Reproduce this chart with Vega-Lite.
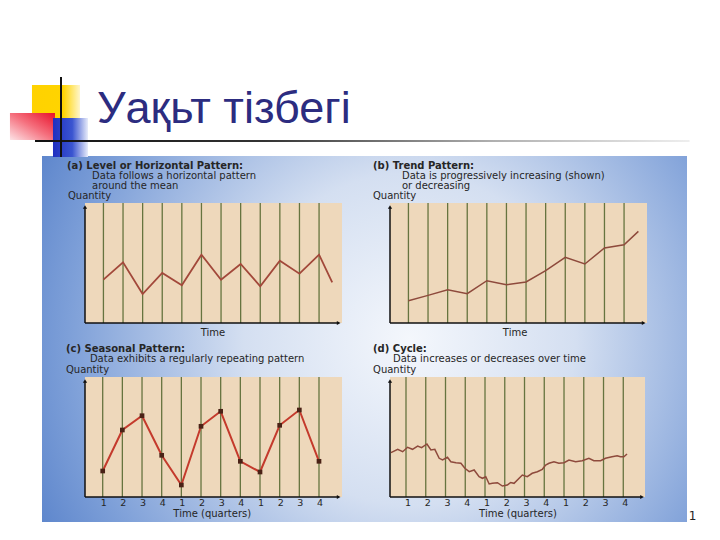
{
  "$schema": "https://vega.github.io/schema/vega-lite/v6.json",
  "width": 645,
  "height": 366,
  "autosize": {"type": "none"},
  "padding": {"left": 42, "top": 156, "right": 33, "bottom": 18},
  "background": "#ffffff",
  "view": {
    "stroke": null,
    "fill": {
      "gradient": "radial",
      "x1": 0.57, "y1": 0.5, "r1": 0,
      "x2": 0.57, "y2": 0.5, "r2": 0.78,
      "stops": [
        {"offset": 0, "color": "#f4f7fc"},
        {"offset": 0.33, "color": "#d4dff1"},
        {"offset": 0.68, "color": "#7d9fd8"},
        {"offset": 1, "color": "#3566bd"}
      ]
    }
  },
  "title": {
    "text": "Уақьт тізбегі",
    "anchor": "start",
    "frame": "group",
    "dx": 55,
    "dy": 123,
    "offset": 31,
    "baseline": "alphabetic",
    "font": "Liberation Sans",
    "fontSize": 45,
    "fontWeight": "normal",
    "color": "#2c2c80"
  },
  "datasets": {
    "grid": [
      {"t": 1, "quarter": "1"}, {"t": 2, "quarter": "2"}, {"t": 3, "quarter": "3"}, {"t": 4, "quarter": "4"},
      {"t": 5, "quarter": "1"}, {"t": 6, "quarter": "2"}, {"t": 7, "quarter": "3"}, {"t": 8, "quarter": "4"},
      {"t": 9, "quarter": "1"}, {"t": 10, "quarter": "2"}, {"t": 11, "quarter": "3"}, {"t": 12, "quarter": "4"}
    ],
    "a": [
      {"t": 1, "q": 43.3}, {"t": 2, "q": 60.7}, {"t": 3, "q": 29}, {"t": 4, "q": 50}, {"t": 5, "q": 37.7},
      {"t": 6, "q": 68.3}, {"t": 7, "q": 43.3}, {"t": 8, "q": 59}, {"t": 9, "q": 36.7}, {"t": 10, "q": 62.3},
      {"t": 11, "q": 49.3}, {"t": 12, "q": 68.3}, {"t": 12.67, "q": 40.7}
    ],
    "b": [
      {"t": 1, "q": 22.3}, {"t": 2, "q": 27.6}, {"t": 3, "q": 33.3}, {"t": 4, "q": 29.3}, {"t": 5, "q": 42.3},
      {"t": 6, "q": 38.3}, {"t": 7, "q": 41}, {"t": 8, "q": 52.3}, {"t": 9, "q": 65.6}, {"t": 10, "q": 59},
      {"t": 11, "q": 75}, {"t": 12, "q": 78.3}, {"t": 12.73, "q": 91.6}
    ],
    "c": [
      {"t": 1, "q": 26}, {"t": 2, "q": 67}, {"t": 3, "q": 81.3}, {"t": 4, "q": 41.7}, {"t": 5, "q": 12},
      {"t": 6, "q": 70.7}, {"t": 7, "q": 85.7}, {"t": 8, "q": 35.7}, {"t": 9, "q": 25}, {"t": 10, "q": 71.7},
      {"t": 11, "q": 87}, {"t": 12, "q": 35.7}
    ],
    "d": [
      {"t": 0.24, "q": 44.3}, {"t": 0.58, "q": 47.7}, {"t": 0.83, "q": 45.3}, {"t": 1.08, "q": 49.7},
      {"t": 1.33, "q": 47.7}, {"t": 1.59, "q": 51}, {"t": 1.79, "q": 49.3}, {"t": 2.06, "q": 53},
      {"t": 2.26, "q": 47}, {"t": 2.46, "q": 47.7}, {"t": 2.68, "q": 38.7}, {"t": 2.85, "q": 37},
      {"t": 3.1, "q": 39.7}, {"t": 3.27, "q": 35.3}, {"t": 3.53, "q": 34.3}, {"t": 3.78, "q": 33.7},
      {"t": 3.98, "q": 28.7}, {"t": 4.2, "q": 25.3}, {"t": 4.45, "q": 27}, {"t": 4.7, "q": 20.3},
      {"t": 4.87, "q": 18.7}, {"t": 5.04, "q": 20.3}, {"t": 5.21, "q": 13}, {"t": 5.37, "q": 13.7},
      {"t": 5.63, "q": 14.3}, {"t": 5.88, "q": 11}, {"t": 6.13, "q": 12}, {"t": 6.3, "q": 14.5},
      {"t": 6.47, "q": 13.7}, {"t": 6.89, "q": 22}, {"t": 7.14, "q": 20.3}, {"t": 7.39, "q": 23.7},
      {"t": 7.65, "q": 25.3}, {"t": 7.9, "q": 27.7}, {"t": 8.07, "q": 32}, {"t": 8.24, "q": 33.7},
      {"t": 8.49, "q": 35.3}, {"t": 8.74, "q": 33.7}, {"t": 9.0, "q": 34.3}, {"t": 9.25, "q": 37},
      {"t": 9.59, "q": 35.3}, {"t": 9.92, "q": 36.3}, {"t": 10.26, "q": 38.7}, {"t": 10.51, "q": 36.3},
      {"t": 10.85, "q": 36.3}, {"t": 11.1, "q": 38.7}, {"t": 11.43, "q": 40.3}, {"t": 11.69, "q": 41.3},
      {"t": 11.86, "q": 40.3}, {"t": 12.03, "q": 40.3}, {"t": 12.19, "q": 43}
    ]
  },
  "resolve": {
    "scale": {"x": "independent", "y": "independent"}
  },
  "layer": [
    {
      "data": {"name": "a"},
      "layer": [
        {"data": {"values": [{}]}, "mark": {"type": "rect", "fill": {"gradient": "linear", "x1": 0, "y1": 0, "x2": 1, "y2": 0, "stops": [{"offset": 0, "color": "#ffd200"}, {"offset": 0.65, "color": "#ffd400"}, {"offset": 1, "color": "#fff6cc"}]}},
         "encoding": {"x": {"datum": -2.645, "type": "quantitative", "axis": null}, "x2": {"datum": -0.195}, "y": {"datum": 238, "type": "quantitative", "axis": null}, "y2": {"datum": 195}}},
        {"data": {"values": [{}]}, "mark": {"type": "rect", "fill": {"gradient": "linear", "x1": 0, "y1": 1, "x2": 1, "y2": 0, "stops": [{"offset": 0, "color": "#fde3e6"}, {"offset": 0.5, "color": "#f5707e"}, {"offset": 1, "color": "#e8102a"}]}},
         "encoding": {"x": {"datum": -3.768, "type": "quantitative", "axis": null}, "x2": {"datum": -1.471}, "y": {"datum": 210, "type": "quantitative", "axis": null}, "y2": {"datum": 183}}},
        {"data": {"values": [{}]}, "mark": {"type": "rect", "fill": {"gradient": "linear", "x1": 0, "y1": 0, "x2": 1, "y2": 0, "stops": [{"offset": 0, "color": "#1f2fbf"}, {"offset": 0.55, "color": "#3a55d0"}, {"offset": 1, "color": "#e8ecfa"}]}},
         "encoding": {"x": {"datum": -1.573, "type": "quantitative", "axis": null}, "x2": {"datum": 0.213}, "y": {"datum": 205, "type": "quantitative", "axis": null}, "y2": {"datum": 166}}},
        {"data": {"values": [{}]}, "mark": {"type": "rect", "fill": {"gradient": "linear", "x1": 0, "y1": 0, "x2": 1, "y2": 0, "stops": [{"offset": 0, "color": "#111111"}, {"offset": 0.35, "color": "#333333"}, {"offset": 0.7, "color": "#b0b0b0"}, {"offset": 1, "color": "#eeeeee"}]}},
         "encoding": {"x": {"datum": -2.49, "type": "quantitative", "axis": null}, "x2": {"datum": 30.9}, "y": {"datum": 183, "type": "quantitative", "axis": null}, "y2": {"datum": 181}}},
        {"data": {"values": [{}]}, "mark": {"type": "rule", "color": "#111111", "strokeWidth": 2},
         "encoding": {"x": {"datum": -1.165, "type": "quantitative", "axis": null}, "y": {"datum": 246, "type": "quantitative", "axis": null}, "y2": {"datum": 166}}},
        {"data": {"values": [{}]}, "mark": {"type": "rect", "fill": "#eed8bb"},
         "encoding": {"x": {"datum": 0.06, "type": "quantitative", "axis": null}, "x2": {"datum": 13.17}, "y": {"datum": 0, "type": "quantitative", "axis": null}, "y2": {"datum": 120}}},
        {"data": {"name": "grid"}, "mark": {"type": "rule", "color": "#66743f", "strokeWidth": 1.3},
         "encoding": {"x": {"field": "t", "type": "quantitative", "axis": null}, "y": {"datum": 0, "type": "quantitative", "axis": null}, "y2": {"datum": 120}}},
        {"data": {"values": [{}]}, "mark": {"type": "rule", "color": "#111111", "strokeWidth": 1.5},
         "encoding": {"x": {"datum": 0.06, "type": "quantitative", "axis": null}, "x2": {"datum": 13.0}, "y": {"datum": 0, "type": "quantitative", "axis": null}}},
        {"data": {"values": [{}]}, "mark": {"type": "rule", "color": "#111111", "strokeWidth": 1.5},
         "encoding": {"x": {"datum": 0.06, "type": "quantitative", "axis": null}, "y": {"datum": 0, "type": "quantitative", "axis": null}, "y2": {"datum": 116}}},
        {"data": {"values": [{}]}, "mark": {"type": "point", "shape": "triangle-right", "filled": true, "size": 18, "color": "#111111", "opacity": 1},
         "encoding": {"x": {"datum": 13.0, "type": "quantitative", "axis": null}, "y": {"datum": 0, "type": "quantitative", "axis": null}}},
        {"data": {"values": [{}]}, "mark": {"type": "point", "shape": "triangle-up", "filled": true, "size": 18, "color": "#111111", "opacity": 1},
         "encoding": {"x": {"datum": 0.06, "type": "quantitative", "axis": null}, "y": {"datum": 116, "type": "quantitative", "axis": null}}},
        {"mark": {"type": "line", "color": "#a2483a", "strokeWidth": 1.8},
         "encoding": {
           "x": {"field": "t", "type": "quantitative", "scale": {"domain": [0.06, 13.17], "range": [43, 300], "nice": false, "zero": false}, "axis": null},
           "y": {"field": "q", "type": "quantitative", "scale": {"domain": [0, 120], "range": [167, 47], "nice": false, "zero": false}, "axis": null}}},
        {"data": {"values": [{}]}, "mark": {"type": "text", "font": "DejaVu Sans", "fontWeight": "bold", "fontSize": 10, "align": "left", "baseline": "alphabetic", "color": "#262626"},
         "encoding": {"x": {"datum": -0.86, "type": "quantitative", "axis": null}, "y": {"datum": 154.5, "type": "quantitative", "axis": null}, "text": {"value": "(a) Level or Horizontal Pattern:"}}},
        {"data": {"values": [{}]}, "mark": {"type": "text", "font": "DejaVu Sans", "fontSize": 10, "lineHeight": 10, "align": "left", "baseline": "alphabetic", "color": "#262626"},
         "encoding": {"x": {"datum": 0.42, "type": "quantitative", "axis": null}, "y": {"datum": 144.5, "type": "quantitative", "axis": null}, "text": {"value": ["Data follows a horizontal pattern", "around the mean"]}}},
        {"data": {"values": [{}]}, "mark": {"type": "text", "font": "DejaVu Sans", "fontSize": 10, "align": "left", "baseline": "alphabetic", "color": "#262626"},
         "encoding": {"x": {"datum": -0.81, "type": "quantitative", "axis": null}, "y": {"datum": 124, "type": "quantitative", "axis": null}, "text": {"value": "Quantity"}}},
        {"data": {"values": [{}]}, "mark": {"type": "text", "font": "DejaVu Sans", "fontSize": 10, "align": "center", "baseline": "alphabetic", "color": "#262626"},
         "encoding": {"x": {"datum": 6.59, "type": "quantitative", "axis": null}, "y": {"datum": -12.5, "type": "quantitative", "axis": null}, "text": {"value": "Time"}}}
      ]
    },
    {
      "data": {"name": "b"},
      "layer": [
        {"data": {"values": [{}]}, "mark": {"type": "rect", "fill": "#eed8bb"},
         "encoding": {"x": {"datum": 0.06, "type": "quantitative", "axis": null}, "x2": {"datum": 13.17}, "y": {"datum": 0, "type": "quantitative", "axis": null}, "y2": {"datum": 120}}},
        {"data": {"name": "grid"}, "mark": {"type": "rule", "color": "#66743f", "strokeWidth": 1.3},
         "encoding": {"x": {"field": "t", "type": "quantitative", "axis": null}, "y": {"datum": 0, "type": "quantitative", "axis": null}, "y2": {"datum": 120}}},
        {"data": {"values": [{}]}, "mark": {"type": "rule", "color": "#111111", "strokeWidth": 1.5},
         "encoding": {"x": {"datum": 0.06, "type": "quantitative", "axis": null}, "x2": {"datum": 13.0}, "y": {"datum": 0, "type": "quantitative", "axis": null}}},
        {"data": {"values": [{}]}, "mark": {"type": "rule", "color": "#111111", "strokeWidth": 1.5},
         "encoding": {"x": {"datum": 0.06, "type": "quantitative", "axis": null}, "y": {"datum": 0, "type": "quantitative", "axis": null}, "y2": {"datum": 116}}},
        {"data": {"values": [{}]}, "mark": {"type": "point", "shape": "triangle-right", "filled": true, "size": 18, "color": "#111111", "opacity": 1},
         "encoding": {"x": {"datum": 13.0, "type": "quantitative", "axis": null}, "y": {"datum": 0, "type": "quantitative", "axis": null}}},
        {"data": {"values": [{}]}, "mark": {"type": "point", "shape": "triangle-up", "filled": true, "size": 18, "color": "#111111", "opacity": 1},
         "encoding": {"x": {"datum": 0.06, "type": "quantitative", "axis": null}, "y": {"datum": 116, "type": "quantitative", "axis": null}}},
        {"mark": {"type": "line", "color": "#8e4a3c", "strokeWidth": 1.5},
         "encoding": {
           "x": {"field": "t", "type": "quantitative", "scale": {"domain": [0.06, 13.17], "range": [348, 605], "nice": false, "zero": false}, "axis": null},
           "y": {"field": "q", "type": "quantitative", "scale": {"domain": [0, 120], "range": [167, 47], "nice": false, "zero": false}, "axis": null}}},
        {"data": {"values": [{}]}, "mark": {"type": "text", "font": "DejaVu Sans", "fontWeight": "bold", "fontSize": 10, "align": "left", "baseline": "alphabetic", "color": "#262626"},
         "encoding": {"x": {"datum": -0.81, "type": "quantitative", "axis": null}, "y": {"datum": 154.5, "type": "quantitative", "axis": null}, "text": {"value": "(b) Trend Pattern:"}}},
        {"data": {"values": [{}]}, "mark": {"type": "text", "font": "DejaVu Sans", "fontSize": 10, "lineHeight": 10, "align": "left", "baseline": "alphabetic", "color": "#262626"},
         "encoding": {"x": {"datum": 0.67, "type": "quantitative", "axis": null}, "y": {"datum": 144.5, "type": "quantitative", "axis": null}, "text": {"value": ["Data is progressively increasing (shown)", "or decreasing"]}}},
        {"data": {"values": [{}]}, "mark": {"type": "text", "font": "DejaVu Sans", "fontSize": 10, "align": "left", "baseline": "alphabetic", "color": "#262626"},
         "encoding": {"x": {"datum": -0.81, "type": "quantitative", "axis": null}, "y": {"datum": 124, "type": "quantitative", "axis": null}, "text": {"value": "Quantity"}}},
        {"data": {"values": [{}]}, "mark": {"type": "text", "font": "DejaVu Sans", "fontSize": 10, "align": "center", "baseline": "alphabetic", "color": "#262626"},
         "encoding": {"x": {"datum": 6.44, "type": "quantitative", "axis": null}, "y": {"datum": -12.5, "type": "quantitative", "axis": null}, "text": {"value": "Time"}}}
      ]
    },
    {
      "data": {"name": "c"},
      "layer": [
        {"data": {"values": [{}]}, "mark": {"type": "rect", "fill": "#eed8bb"},
         "encoding": {"x": {"datum": 0.1, "type": "quantitative", "axis": null}, "x2": {"datum": 13.17}, "y": {"datum": 0, "type": "quantitative", "axis": null}, "y2": {"datum": 120}}},
        {"data": {"name": "grid"}, "mark": {"type": "rule", "color": "#66743f", "strokeWidth": 1.3},
         "encoding": {"x": {"field": "t", "type": "quantitative", "axis": null}, "y": {"datum": 0, "type": "quantitative", "axis": null}, "y2": {"datum": 120}}},
        {"data": {"values": [{}]}, "mark": {"type": "rule", "color": "#111111", "strokeWidth": 1.5},
         "encoding": {"x": {"datum": 0.1, "type": "quantitative", "axis": null}, "x2": {"datum": 13.0}, "y": {"datum": 0, "type": "quantitative", "axis": null}}},
        {"data": {"values": [{}]}, "mark": {"type": "rule", "color": "#111111", "strokeWidth": 1.5},
         "encoding": {"x": {"datum": 0.1, "type": "quantitative", "axis": null}, "y": {"datum": 0, "type": "quantitative", "axis": null}, "y2": {"datum": 116}}},
        {"data": {"values": [{}]}, "mark": {"type": "point", "shape": "triangle-right", "filled": true, "size": 18, "color": "#111111", "opacity": 1},
         "encoding": {"x": {"datum": 13.0, "type": "quantitative", "axis": null}, "y": {"datum": 0, "type": "quantitative", "axis": null}}},
        {"data": {"values": [{}]}, "mark": {"type": "point", "shape": "triangle-up", "filled": true, "size": 18, "color": "#111111", "opacity": 1},
         "encoding": {"x": {"datum": 0.1, "type": "quantitative", "axis": null}, "y": {"datum": 116, "type": "quantitative", "axis": null}}},
        {"mark": {"type": "line", "color": "#c43a2c", "strokeWidth": 2},
         "encoding": {
           "x": {"field": "t", "type": "quantitative", "scale": {"domain": [0.1, 13.17], "range": [43, 300], "nice": false, "zero": false}, "axis": null},
           "y": {"field": "q", "type": "quantitative", "scale": {"domain": [0, 120], "range": [341, 221], "nice": false, "zero": false}, "axis": null}}},
        {"mark": {"type": "point", "shape": "square", "filled": true, "size": 22, "color": "#4a2216", "opacity": 1},
         "encoding": {"x": {"field": "t", "type": "quantitative", "axis": null}, "y": {"field": "q", "type": "quantitative", "axis": null}}},
        {"data": {"name": "grid"}, "mark": {"type": "text", "font": "DejaVu Sans", "fontSize": 9.5, "align": "center", "baseline": "alphabetic", "dx": 1, "color": "#262626"},
         "encoding": {"x": {"field": "t", "type": "quantitative", "axis": null}, "y": {"datum": -8.5, "type": "quantitative", "axis": null}, "text": {"field": "quarter"}}},
        {"data": {"values": [{}]}, "mark": {"type": "text", "font": "DejaVu Sans", "fontWeight": "bold", "fontSize": 10, "align": "left", "baseline": "alphabetic", "color": "#262626"},
         "encoding": {"x": {"datum": -0.87, "type": "quantitative", "axis": null}, "y": {"datum": 145.5, "type": "quantitative", "axis": null}, "text": {"value": "(c) Seasonal Pattern:"}}},
        {"data": {"values": [{}]}, "mark": {"type": "text", "font": "DejaVu Sans", "fontSize": 10, "align": "left", "baseline": "alphabetic", "color": "#262626"},
         "encoding": {"x": {"datum": 0.35, "type": "quantitative", "axis": null}, "y": {"datum": 135.5, "type": "quantitative", "axis": null}, "text": {"value": "Data exhibits a regularly repeating pattern"}}},
        {"data": {"values": [{}]}, "mark": {"type": "text", "font": "DejaVu Sans", "fontSize": 10, "align": "left", "baseline": "alphabetic", "color": "#262626"},
         "encoding": {"x": {"datum": -0.87, "type": "quantitative", "axis": null}, "y": {"datum": 124, "type": "quantitative", "axis": null}, "text": {"value": "Quantity"}}},
        {"data": {"values": [{}]}, "mark": {"type": "text", "font": "DejaVu Sans", "fontSize": 10, "align": "center", "baseline": "alphabetic", "color": "#262626"},
         "encoding": {"x": {"datum": 6.57, "type": "quantitative", "axis": null}, "y": {"datum": -19.5, "type": "quantitative", "axis": null}, "text": {"value": "Time (quarters)"}}}
      ]
    },
    {
      "data": {"name": "d"},
      "layer": [
        {"data": {"values": [{}]}, "mark": {"type": "rect", "fill": "#eed8bb"},
         "encoding": {"x": {"datum": 0.19, "type": "quantitative", "axis": null}, "x2": {"datum": 13.1}, "y": {"datum": 0, "type": "quantitative", "axis": null}, "y2": {"datum": 120}}},
        {"data": {"name": "grid"}, "mark": {"type": "rule", "color": "#66743f", "strokeWidth": 1.3},
         "encoding": {"x": {"field": "t", "type": "quantitative", "axis": null}, "y": {"datum": 0, "type": "quantitative", "axis": null}, "y2": {"datum": 120}}},
        {"data": {"values": [{}]}, "mark": {"type": "rule", "color": "#111111", "strokeWidth": 1.5},
         "encoding": {"x": {"datum": 0.19, "type": "quantitative", "axis": null}, "x2": {"datum": 12.95}, "y": {"datum": 0, "type": "quantitative", "axis": null}}},
        {"data": {"values": [{}]}, "mark": {"type": "rule", "color": "#111111", "strokeWidth": 1.5},
         "encoding": {"x": {"datum": 0.19, "type": "quantitative", "axis": null}, "y": {"datum": 0, "type": "quantitative", "axis": null}, "y2": {"datum": 116}}},
        {"data": {"values": [{}]}, "mark": {"type": "point", "shape": "triangle-right", "filled": true, "size": 18, "color": "#111111", "opacity": 1},
         "encoding": {"x": {"datum": 12.95, "type": "quantitative", "axis": null}, "y": {"datum": 0, "type": "quantitative", "axis": null}}},
        {"data": {"values": [{}]}, "mark": {"type": "point", "shape": "triangle-up", "filled": true, "size": 18, "color": "#111111", "opacity": 1},
         "encoding": {"x": {"datum": 0.19, "type": "quantitative", "axis": null}, "y": {"datum": 116, "type": "quantitative", "axis": null}}},
        {"mark": {"type": "line", "color": "#8e4a3c", "strokeWidth": 1.5},
         "encoding": {
           "x": {"field": "t", "type": "quantitative", "scale": {"domain": [0.19, 13.1], "range": [348, 603], "nice": false, "zero": false}, "axis": null},
           "y": {"field": "q", "type": "quantitative", "scale": {"domain": [0, 120], "range": [341, 221], "nice": false, "zero": false}, "axis": null}}},
        {"data": {"name": "grid"}, "mark": {"type": "text", "font": "DejaVu Sans", "fontSize": 9.5, "align": "center", "baseline": "alphabetic", "dx": 2, "color": "#262626"},
         "encoding": {"x": {"field": "t", "type": "quantitative", "axis": null}, "y": {"datum": -8.5, "type": "quantitative", "axis": null}, "text": {"field": "quarter"}}},
        {"data": {"values": [{}]}, "mark": {"type": "text", "font": "DejaVu Sans", "fontWeight": "bold", "fontSize": 10, "align": "left", "baseline": "alphabetic", "color": "#262626"},
         "encoding": {"x": {"datum": -0.67, "type": "quantitative", "axis": null}, "y": {"datum": 145.5, "type": "quantitative", "axis": null}, "text": {"value": "(d) Cycle:"}}},
        {"data": {"values": [{}]}, "mark": {"type": "text", "font": "DejaVu Sans", "fontSize": 10, "align": "left", "baseline": "alphabetic", "color": "#262626"},
         "encoding": {"x": {"datum": 0.34, "type": "quantitative", "axis": null}, "y": {"datum": 135.5, "type": "quantitative", "axis": null}, "text": {"value": "Data increases or decreases over time"}}},
        {"data": {"values": [{}]}, "mark": {"type": "text", "font": "DejaVu Sans", "fontSize": 10, "align": "left", "baseline": "alphabetic", "color": "#262626"},
         "encoding": {"x": {"datum": -0.67, "type": "quantitative", "axis": null}, "y": {"datum": 124, "type": "quantitative", "axis": null}, "text": {"value": "Quantity"}}},
        {"data": {"values": [{}]}, "mark": {"type": "text", "font": "DejaVu Sans", "fontSize": 10, "align": "center", "baseline": "alphabetic", "color": "#262626"},
         "encoding": {"x": {"datum": 6.67, "type": "quantitative", "axis": null}, "y": {"datum": -19.5, "type": "quantitative", "axis": null}, "text": {"value": "Time (quarters)"}}},
        {"data": {"values": [{}]}, "mark": {"type": "text", "font": "DejaVu Sans", "fontSize": 12, "align": "left", "baseline": "alphabetic", "color": "#222222"},
         "encoding": {"x": {"datum": 15.32, "type": "quantitative", "axis": null}, "y": {"datum": -23, "type": "quantitative", "axis": null}, "text": {"value": "1"}}}
      ]
    }
  ]
}
